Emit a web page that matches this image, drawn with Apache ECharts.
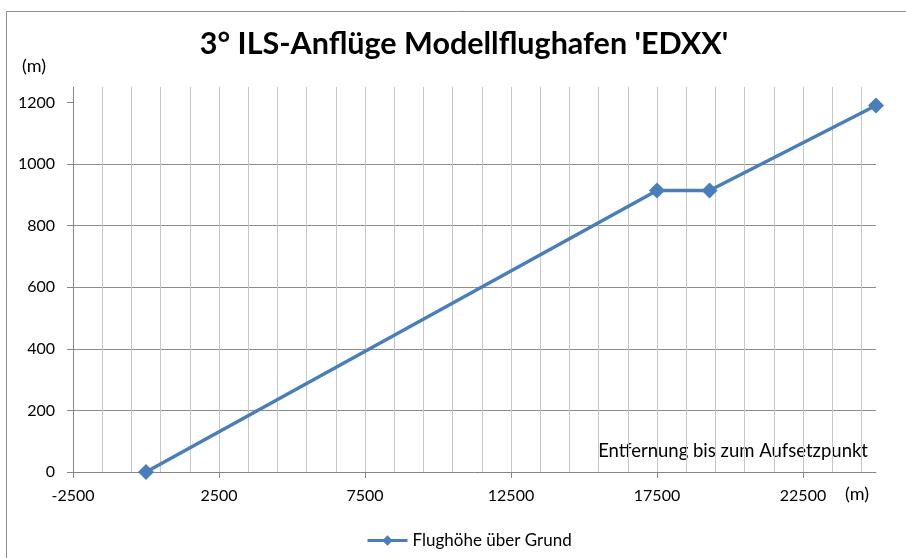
<!DOCTYPE html>
<html>
<head>
<meta charset="utf-8">
<script src="https://cdn.jsdelivr.net/npm/echarts@6/dist/echarts.min.js"></script>
<style>
  html, body { margin: 0; padding: 0; background: #fff; }
  #chart { width: 906px; height: 558px; }
</style>
</head>
<body>
<div id="chart"></div>
<script>
// Entfernung bis zum Aufsetzpunkt (m)
const distances = [0, 17500, 19300, 25000];
// Flughöhe über Grund (m)
const heights = [0, 914, 914, 1190];
const xTickLabels = [-2500, 2500, 7500, 12500, 17500, 22500];
const yTickLabels = [0, 200, 400, 600, 800, 1000, 1200];

const font = 'Lato, "Open Sans", sans-serif';

const myChart = echarts.init(document.getElementById('chart'));
const option = {
  backgroundColor: '#fff',
  animation: false,
  title: {
    text: "3° ILS-Anflüge Modellflughafen 'EDXX'",
    left: 459,
    textAlign: 'center',
    top: 24,
    textStyle: { fontFamily: font, fontSize: 30.5, fontWeight: 'bold', color: '#000' }
  },
  legend: {
    left: 361,
    top: 527,
    itemWidth: 40,
    itemHeight: 13,
    lineStyle: { width: 3 },
    textStyle: { fontFamily: font, fontSize: 17, color: '#000' },
    data: ['Flughöhe über Grund']
  },
  grid: { left: 73, right: 30, top: 87, bottom: 86 },
  graphic: [
    {
      type: 'rect', left: 4, top: 9, silent: true,
      shape: { width: 950, height: 600 },
      style: { fill: 'none', stroke: '#8c8c8c', lineWidth: 1 }
    },
    {
      type: 'text', left: 22, top: 57,
      style: { text: '(m)', fontFamily: font, fontSize: 18, fill: '#000' }
    },
    {
      type: 'text', left: 845, top: 485,
      style: { text: '(m)', fontFamily: font, fontSize: 18, fill: '#000' }
    },
    {
      type: 'text', right: 38, top: 442,
      style: { text: 'Entfernung bis zum Aufsetzpunkt', fontFamily: font, fontSize: 18.5, fill: '#000' }
    }
  ],
  xAxis: [
    {
      type: 'value',
      min: -2500,
      max: 25000,
      interval: 5000,
      axisLine: { onZero: true, lineStyle: { color: '#868686', width: 1 } },
      axisTick: { show: true, customValues: xTickLabels, length: 6, lineStyle: { color: '#868686' } },
      axisLabel: {
        customValues: xTickLabels, margin: 16,
        fontFamily: font, fontSize: 16, color: '#000',
        formatter: v => String(v)
      },
      splitLine: { show: false }
    },
    {
      // nur Gitternetz alle 1000 m
      type: 'value',
      position: 'top',
      min: -2500,
      max: 25000,
      interval: 1000,
      axisLine: { show: false },
      axisTick: { show: false },
      axisLabel: { show: false },
      splitLine: { show: true, showMinLine: false, showMaxLine: false, lineStyle: { color: '#c6c6c6', width: 1 } }
    }
  ],
  yAxis: {
    type: 'value',
    min: 0,
    max: 1250,
    interval: 200,
    axisLine: { show: true, onZero: false, lineStyle: { color: '#868686', width: 1 } },
    axisTick: { show: true, customValues: yTickLabels, length: 6, lineStyle: { color: '#868686' } },
    axisLabel: {
      customValues: yTickLabels, margin: 18,
      fontFamily: font, fontSize: 16, color: '#000',
      formatter: v => String(v)
    },
    splitLine: { show: true, showMinLine: false, showMaxLine: false, lineStyle: { color: '#8c8c8c', width: 1 } }
  },
  series: [
    {
      name: 'Flughöhe über Grund',
      type: 'line',
      xAxisIndex: 0,
      data: distances.map((d, i) => [d, heights[i]]),
      symbol: 'diamond',
      symbolSize: 16,
      showAllSymbol: true,
      lineStyle: { color: '#4a7ebb', width: 3.5 },
      itemStyle: { color: '#4a7ebb' }
    }
  ]
};
myChart.setOption(option);
</script>
</body>
</html>
